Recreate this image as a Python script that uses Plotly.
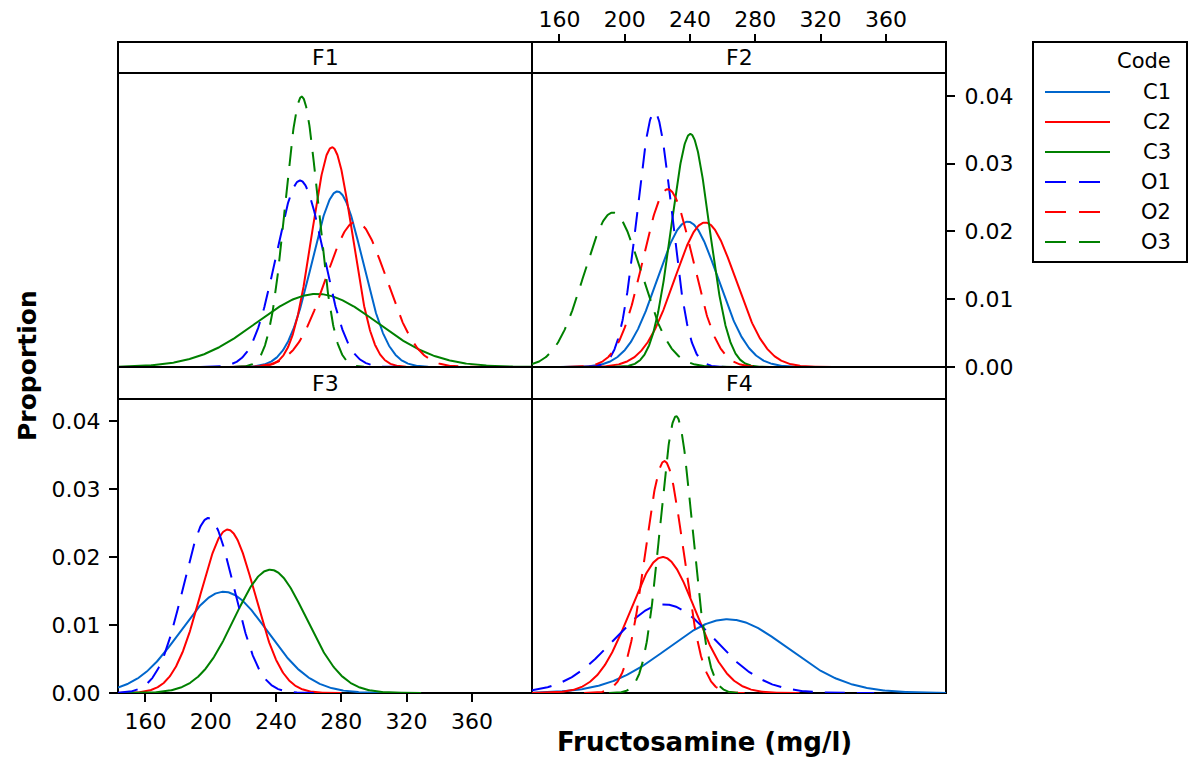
import numpy as np
import plotly.graph_objects as go

# ---------------- data (normal fits: mean and SD per code, per panel) ----------------
codes = ["C1", "C2", "C3", "O1", "O2", "O3"]
panels = ["F1", "F2", "F3", "F4"]

f1_mean = [277.6, 274.3, 265.0, 254.7, 289.0, 255.7]
f1_sd = [15.4, 12.3, 37.0, 14.5, 18.6, 10.0]

f2_mean = [238.6, 249.2, 240.2, 218.2, 226.4, 192.7]
f2_sd = [18.6, 18.7, 11.6, 10.6, 15.2, 17.5]

f3_mean = [208.0, 210.4, 236.5, 198.6, None, None]
f3_sd = [26.8, 16.6, 22.0, 15.5, None, None]

f4_mean = [263.1, 223.3, None, 224.3, 224.3, 231.5]
f4_sd = [36.8, 19.95, None, 30.6, 11.7, 9.8]

x_ticks = [160, 200, 240, 280, 320, 360]
y_ticks = [0.00, 0.01, 0.02, 0.03, 0.04]

# ---------------- styles ----------------
colors = {"C1": "#0066cc", "C2": "#ff0000", "C3": "#008000",
          "O1": "#0000ff", "O2": "#ff0000", "O3": "#008000"}
dashes = {"C1": "solid", "C2": "solid", "C3": "solid",
          "O1": "20px,12px", "O2": "20px,12px", "O3": "20px,12px"}

FONT = "DejaVu Sans"
W, H = 1192, 765
L, R, T, B = 118, 946, 42, 693


def px(x):
    return (x - L) / (R - L)


def py(y):
    return (B - y) / (B - T)


XR = [143.2, 396.8]
top_plot = [py(367), py(73)]
top_strip = [py(73), py(42)]
bot_plot = [py(693), py(399)]
bot_strip = [py(399), py(367)]
left_dom = [px(118), px(532)]
right_dom = [px(532), px(946)]

fig = go.Figure()

panel_data = [(f1_mean, f1_sd), (f2_mean, f2_sd), (f3_mean, f3_sd), (f4_mean, f4_sd)]
for p, (means, sds) in enumerate(panel_data):
    ax = "" if p == 0 else str(p + 1)
    for code, mu, sd in zip(codes, means, sds):
        if mu is None:
            continue
        lo = max(XR[0], mu - 4.2 * sd)
        hi = min(XR[1], mu + 4.2 * sd)
        xs = np.linspace(lo, hi, 400)
        ys = np.exp(-0.5 * ((xs - mu) / sd) ** 2) / (sd * np.sqrt(2 * np.pi))
        fig.add_trace(go.Scatter(
            x=xs, y=ys, mode="lines", name=code, showlegend=False,
            line=dict(color=colors[code], width=2, dash=dashes[code]),
            xaxis="x" + ax, yaxis="y" + ax))

tickfont = dict(family=FONT, size=22, color="black")
common_x = dict(range=XR, showgrid=False, zeroline=False, showline=False, automargin=False)
common_y = dict(showgrid=False, zeroline=False, showline=False, automargin=False)

fig.update_layout(
    width=W, height=H,
    margin=dict(l=L, r=W - R, t=T, b=H - B, autoexpand=False),
    paper_bgcolor="white", plot_bgcolor="rgba(0,0,0,0)",
    showlegend=False,
    # F1
    xaxis=dict(domain=left_dom, anchor="y", showticklabels=False, ticks="", **common_x),
    yaxis=dict(domain=top_plot, anchor="x", range=[0, 0.04339], showticklabels=False, ticks="", **common_y),
    # F2
    xaxis2=dict(domain=right_dom, anchor="free", position=1.0, side="top",
                tickvals=x_ticks, ticks="outside", ticklen=8, tickwidth=2, tickcolor="black",
                tickfont=tickfont, ticklabelstandoff=-2, **common_x),
    yaxis2=dict(domain=top_plot, anchor="x2", side="right", range=[0, 0.04339],
                tickvals=y_ticks, tickformat=".2f", ticks="outside", ticklen=8, tickwidth=2,
                tickcolor="black", tickfont=tickfont, ticklabelstandoff=5, **common_y),
    # F3
    xaxis3=dict(domain=left_dom, anchor="y3", side="bottom",
                tickvals=x_ticks, ticks="outside", ticklen=8, tickwidth=2, tickcolor="black",
                tickfont=tickfont, ticklabelstandoff=1, **common_x),
    yaxis3=dict(domain=bot_plot, anchor="x3", side="left", range=[0, 0.04324],
                tickvals=y_ticks, tickformat=".2f", ticks="outside", ticklen=8, tickwidth=2,
                tickcolor="black", tickfont=tickfont, ticklabelstandoff=4, **common_y),
    # F4
    xaxis4=dict(domain=right_dom, anchor="y4", showticklabels=False, ticks="", **common_x),
    yaxis4=dict(domain=bot_plot, anchor="x4", range=[0, 0.04324], showticklabels=False, ticks="", **common_y),
)

shapes = []
annotations = []
frame_line = dict(color="black", width=2)
panel_boxes = [
    (left_dom, top_plot, top_strip, "F1"),
    (right_dom, top_plot, top_strip, "F2"),
    (left_dom, bot_plot, bot_strip, "F3"),
    (right_dom, bot_plot, bot_strip, "F4"),
]
for xd, yd, sd_, label in panel_boxes:
    shapes.append(dict(type="rect", xref="paper", yref="paper", x0=xd[0], x1=xd[1],
                       y0=yd[0], y1=yd[1], line=frame_line, layer="below"))
    shapes.append(dict(type="rect", xref="paper", yref="paper", x0=xd[0], x1=xd[1],
                       y0=sd_[0], y1=sd_[1], line=frame_line, fillcolor="white", layer="above"))
    annotations.append(dict(text=label, xref="paper", yref="paper",
                            x=(xd[0] + xd[1]) / 2, y=(sd_[0] + sd_[1]) / 2,
                            xanchor="center", yanchor="middle", showarrow=False,
                            font=dict(family=FONT, size=22, color="black")))

# axis titles
annotations.append(dict(text="<b>Fructosamine (mg/l)</b>", xref="paper", yref="paper",
                        x=px(704), y=py(742), xanchor="center", yanchor="middle", showarrow=False,
                        font=dict(family=FONT, size=26, color="black")))
annotations.append(dict(text="<b>Proportion</b>", xref="paper", yref="paper",
                        x=px(28), y=py(366), xanchor="center", yanchor="middle", showarrow=False,
                        textangle=-90, font=dict(family=FONT, size=25, color="black")))

# legend (drawn box)
shapes.append(dict(type="rect", xref="paper", yref="paper", x0=px(1033), x1=px(1187),
                   y0=py(262), y1=py(42), line=frame_line, fillcolor="white"))
annotations.append(dict(text="Code", xref="paper", yref="paper", x=px(1173), y=py(61),
                        xanchor="right", yanchor="middle", showarrow=False,
                        font=dict(family=FONT, size=21, color="black")))
leg_y = [92, 122, 152, 182, 212, 242]
for code, yy in zip(codes, leg_y):
    d = dashes[code]
    shapes.append(dict(type="line", xref="paper", yref="paper", x0=px(1045),
                       x1=px(1110) if d == "solid" else px(1101),
                       y0=py(yy), y1=py(yy),
                       line=dict(color=colors[code], width=2,
                                 dash="solid" if d == "solid" else "21px,13px")))
    annotations.append(dict(text=code, xref="paper", yref="paper", x=px(1173), y=py(yy),
                            xanchor="right", yanchor="middle", showarrow=False,
                            font=dict(family=FONT, size=21, color="black")))

fig.update_layout(shapes=shapes, annotations=annotations)
fig.write_html("out.html")
